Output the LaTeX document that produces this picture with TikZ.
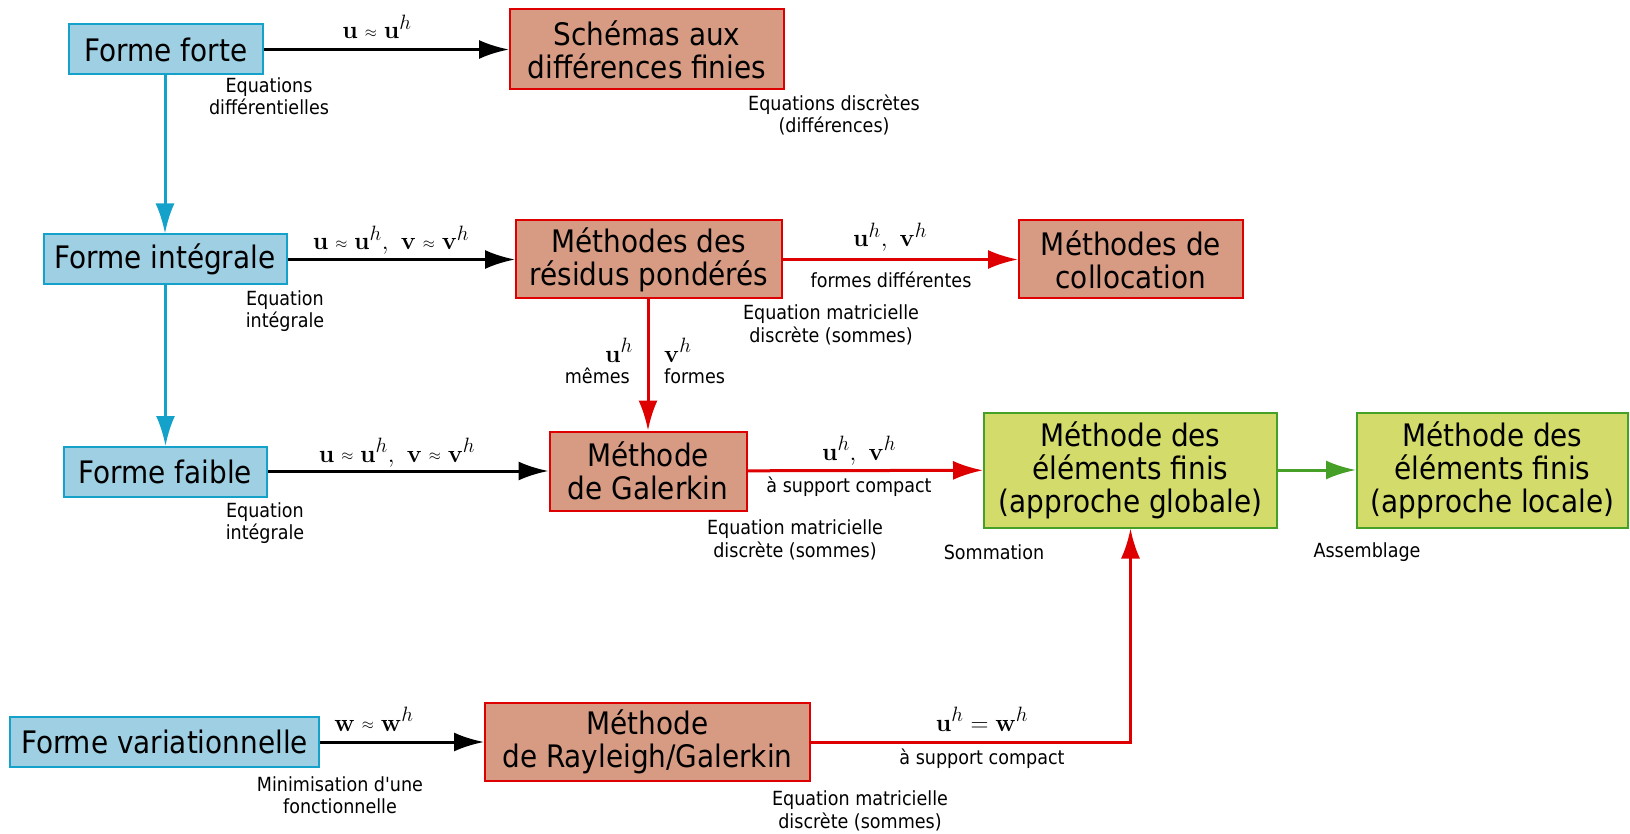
\documentclass[tikz,border=0pt]{standalone}
\usepackage[no-math]{fontspec}
\setmainfont{DejaVu Sans Condensed}[Ligatures=TeXOff]
\usetikzlibrary{arrows.meta}
\definecolor{bfill}{RGB}{158,207,227}
\definecolor{bline}{RGB}{20,162,202}
\definecolor{rfill}{RGB}{215,155,131}
\definecolor{rline}{RGB}{222,0,0}
\definecolor{gfill}{RGB}{211,220,106}
\definecolor{gline}{RGB}{70,160,40}
\newcommand{\apx}{\mathrel{\raisebox{0.1ex}{\scalebox{0.62}{$\approx$}}}}
\begin{document}
\begin{tikzpicture}[x=1pt,y=-1pt,
  box/.style={draw, line width=2pt, inner sep=0pt, align=center, font=\fontsize{31}{33}\selectfont},
  bbox/.style={box, fill=bfill, draw=bline, minimum height=50pt},
  rbox/.style={box, fill=rfill, draw=rline, minimum height=78pt},
  gbox/.style={box, fill=gfill, draw=gline, minimum height=115pt},
  lab/.style={inner sep=0pt, align=center, font=\fontsize{19.5}{22.5}\selectfont},
  mlab/.style={inner sep=0pt, anchor=base, font=\fontsize{28}{30}\selectfont},
  tip/.style={-{Latex[length=30pt,width=19pt]}},
  karr/.style={line width=3pt, black, tip},
  barr/.style={line width=3pt, bline, tip},
  rarr/.style={line width=3pt, rline, tip},
  garr/.style={line width=3pt, gline, tip}]
\useasboundingbox (0,0) rectangle (1630,834);

% boxes
\node[bbox, minimum width=194pt] (ff) at (166,49.5) {Forme forte};
\node[rbox, minimum width=274pt, minimum height=80pt] (sdf) at (647,49.5) {Schémas aux\\différences finies};
\node[bbox, minimum width=243pt] (fi) at (165,259.5) {Forme intégrale};
\node[rbox, minimum width=266pt] (mrp) at (649,259.5) {Méthodes des\\résidus pondérés};
\node[rbox, minimum width=224pt] (col) at (1131,259.5) {Méthodes de\\collocation};
\node[bbox, minimum width=203pt] (ffa) at (165.5,472) {Forme faible};
\node[rbox, minimum width=197pt, minimum height=79pt] (gal) at (648,471) {Méthode\\de Galerkin};
\node[gbox, minimum width=293pt] (mefg) at (1130.5,470) {Méthode des\\éléments finis\\(approche globale)};
\node[gbox, minimum width=271pt] (mefl) at (1492.5,470) {Méthode des\\éléments finis\\(approche locale)};
\node[bbox, minimum width=309pt] (fv) at (164.5,742) {Forme variationnelle};
\node[rbox, minimum width=325pt] (ray) at (647.5,742) {Méthode\\de Rayleigh/Galerkin};

% connectors
\draw[karr] (ff) -- (sdf);
\draw[barr] (ff.south -| fi.north) -- (fi.north);
\draw[karr] (fi) -- (mrp);
\draw[rarr] (mrp) -- (col);
\draw[barr] (fi.south -| ffa.north) -- (ffa.north);
\draw[rarr] (mrp.south -| gal.north) -- (gal.north);
\draw[karr] (ffa.east |- gal.west) -- (gal.west);
\draw[rarr] (gal) -- (mefg);
\draw[garr] (mefg) -- (mefl);
\draw[karr] (fv) -- (ray);
\draw[rarr] (ray.east) -| (mefg.south);

% labels
\node[mlab] (l1) at (377,39) {$\mathbf{u}\apx\mathbf{u}^h$};
\node[lab] (l2) at (269,96) {Equations\\différentielles};
\node[lab] (l3) at (834,115) {Equations discrètes\\(différences)};
\node[mlab] (l4) at (391,250) {$\mathbf{u}\apx\mathbf{u}^h,\ \mathbf{v}\apx\mathbf{v}^h$};
\node[lab] (l5) at (285,311) {Equation\\intégrale};
\node[mlab] (l6) at (890,247) {$\mathbf{u}^h,\ \mathbf{v}^h$};
\node[lab] (l7) at (891,280) {formes différentes};
\node[lab] (l8) at (831,325) {Equation matricielle\\discrète (sommes)};
\node[mlab, anchor=base east] (l9) at (633,362) {$\mathbf{u}^h$};
\node[lab, anchor=east] (l10) at (630,376) {mêmes};
\node[mlab, anchor=base west] (l11) at (664,362) {$\mathbf{v}^h$};
\node[lab, anchor=west] (l12) at (664,376) {formes};
\node[mlab] (l13) at (397,462) {$\mathbf{u}\apx\mathbf{u}^h,\ \mathbf{v}\apx\mathbf{v}^h$};
\node[lab] (l14) at (265,523) {Equation\\intégrale};
\node[mlab] (l15) at (859,460) {$\mathbf{u}^h,\ \mathbf{v}^h$};
\node[lab] (l16) at (849,487) {à support compact};
\node[lab] (l17) at (795,540) {Equation matricielle\\discrète (sommes)};
\node[lab] (l18) at (994,552) {Sommation};
\node[lab] (l19) at (1367,552) {Assemblage};
\node[mlab] (l20) at (374,731) {$\mathbf{w}\apx\mathbf{w}^h$};
\node[lab] (l21) at (340,795) {Minimisation d'une\\fonctionnelle};
\node[mlab] (l22) at (982,731) {$\mathbf{u}^h=\mathbf{w}^h$};
\node[lab] (l23) at (982,759) {à support compact};
\node[lab] (l24) at (860,811) {Equation matricielle\\discrète (sommes)};
\end{tikzpicture}
\end{document}
